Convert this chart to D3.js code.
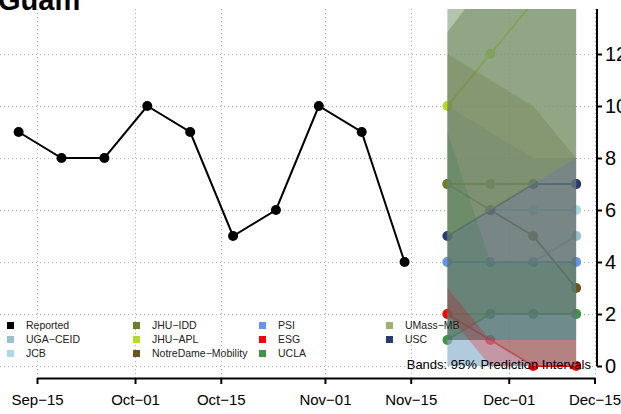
<!DOCTYPE html>
<html>
<head>
<meta charset="utf-8">
<script src="https://cdn.jsdelivr.net/npm/d3@7"></script>
<style>
body { margin: 0; background: #fff; }
svg { display: block; font-family: "Liberation Sans", Arial, sans-serif; }
</style>
</head>
<body>
<div id="chart"></div>
<script>
// observed weekly counts
const reportedDates = ["2020-09-12","2020-09-19","2020-09-26","2020-10-03","2020-10-10","2020-10-17","2020-10-24","2020-10-31","2020-11-07","2020-11-14"];
const reported = [9, 8, 8, 10, 9, 5, 6, 10, 9, 4];

// forecasts (drawing order)
const forecastDates = ["2020-11-21","2020-11-28","2020-12-05","2020-12-12"];
const models = ["UMass-MB","UGA-CEID","JCB","PSI","NotreDame-Mobility","JHU-IDD","JHU-APL","UCLA","ESG","USC"];
const modelColors = ["#9cb469","#9bbfcd","#add8e6","#6495ed","#6b531e","#6e7d2a","#b5dc25","#3f9447","#ff0000","#2c3a72"];
const pointValues = [
  [2, 2, 2, 2],
  [4, 4, 4, 5],
  [5, 6, 6, 6],
  [4, 4, 4, 4],
  [7, 6, 5, 3],
  [7, 7, 7, 7],
  [10, 12, 14, 16],
  [1, 2, 2, 2],
  [2, 1, 0, 0],
  [5, 6, 7, 7]
];
const lower = [
  [0, 0, 0, 0],
  [0, 0, 0, 0],
  [0, 0, 0, 0],
  [0, 0, 0, 0],
  [1, 1, 0, 0],
  [1, 2, 2, 2],
  [5, 6, 7, 8],
  [1, 1, 1, 1],
  [2, 0, 0, 0],
  [1, 1, 1, 1]
];
const upper = [
  [26, 26, 26, 26],
  [24, 24, 24, 24],
  [22, 22, 22, 22],
  [10, 9, 8, 8],
  [12, 11, 10, 8],
  [20, 20, 20, 20],
  [12.85, 15, 17, 19],
  [9, 4, 4, 4],
  [3, 1, 1, 1],
  [12.85, 15, 17, 19]
];

// legend (column by column)
const legendNames = ["Reported","UGA\u2212CEID","JCB","JHU\u2212IDD","JHU\u2212APL","NotreDame\u2212Mobility","PSI","ESG","UCLA","UMass\u2212MB","USC"];
const legendColors = ["#000000","#9bbfcd","#add8e6","#6e7d2a","#b5dc25","#6b531e","#6495ed","#ff0000","#3f9447","#9cb469","#2c3a72"];

const yTicks = [0, 2, 4, 6, 8, 10, 12];
const xTicks = ["2020-09-15","2020-10-01","2020-10-15","2020-11-01","2020-11-15","2020-12-01","2020-12-15"];
const xTickLabels = ["Sep\u221215","Oct\u221201","Oct\u221215","Nov\u221201","Nov\u221215","Dec\u221201","Dec\u221215"];

const width = 621, height = 414;
const parse = d3.timeParse("%Y-%m-%d");
const plotTop = 9, axisY = 378, yAxisX = 597;

const svg = d3.select("#chart").append("svg").attr("width", width).attr("height", height);

const x = d3.scaleTime()
  .domain([parse(xTicks[0]), parse(xTicks[xTicks.length - 1])])
  .range([37, 594.5]);
const y = d3.scaleLinear().domain([0, 12]).range([366, 54]);

svg.append("defs").append("clipPath").attr("id", "clip")
  .append("rect").attr("x", 0).attr("y", plotTop).attr("width", yAxisX).attr("height", axisY - plotTop);

// grid
const grid = svg.append("g").attr("stroke", "#b0b0b0").attr("stroke-dasharray", "1,3").attr("stroke-width", 1);
grid.selectAll(".gy").data(yTicks).join("line")
  .attr("x1", 0).attr("x2", yAxisX)
  .attr("y1", d => y(d) + 0.5).attr("y2", d => y(d) + 0.5);
grid.selectAll(".gx").data(xTicks).join("line")
  .attr("x1", d => Math.round(x(parse(d))) + 0.5).attr("x2", d => Math.round(x(parse(d))) + 0.5)
  .attr("y1", plotTop).attr("y2", axisY);

const plot = svg.append("g").attr("clip-path", "url(#clip)");

const line = d3.line().x(d => x(d[0])).y(d => y(d[1]));
const fDates = forecastDates.map(parse);

// reported series
const rep = reportedDates.map((d, i) => [parse(d), reported[i]]);
plot.append("path").datum(rep).attr("d", line)
  .attr("fill", "none").attr("stroke", "#000").attr("stroke-width", 2);
plot.selectAll(".rp").data(rep).join("circle")
  .attr("cx", d => x(d[0])).attr("cy", d => y(d[1])).attr("r", 5).attr("fill", "#000");

// forecast lines and points
models.forEach((m, k) => {
  const pts = fDates.map((d, i) => [d, pointValues[k][i]]);
  plot.append("path").datum(pts).attr("d", line)
    .attr("fill", "none").attr("stroke", modelColors[k]).attr("stroke-width", 2);
  plot.append("g").selectAll("circle").data(pts).join("circle")
    .attr("cx", d => x(d[0])).attr("cy", d => y(d[1])).attr("r", 5).attr("fill", modelColors[k]);
});

// prediction interval bands on top
const area = d3.area().x(d => x(d[0])).y0(d => y(d[1])).y1(d => y(d[2]));
models.forEach((m, k) => {
  const band = fDates.map((d, i) => [d, lower[k][i], upper[k][i]]);
  plot.append("path").datum(band).attr("d", area)
    .attr("fill", modelColors[k]).attr("fill-opacity", 0.25).attr("stroke", "none");
});

// x axis
const xAxis = svg.append("g").attr("transform", `translate(0,${axisY})`)
  .call(d3.axisBottom(x).tickValues(xTicks.map(parse)).tickSize(6).tickSizeOuter(0)
    .tickFormat((d, i) => xTickLabels[i]));
xAxis.select(".domain").attr("stroke-width", 2);
xAxis.selectAll(".tick line").attr("stroke-width", 2);
xAxis.selectAll(".tick text").attr("font-size", 15).attr("font-family", "Liberation Sans, Arial, sans-serif")
  .attr("fill", "#000").attr("y", 16);

// y axis (right)
const yAxis = svg.append("g").attr("transform", `translate(${yAxisX},0)`)
  .call(d3.axisRight(y).tickValues(yTicks).tickSize(5).tickSizeOuter(0));
yAxis.select(".domain").remove();
yAxis.append("line").attr("y1", plotTop).attr("y2", y(0)).attr("stroke", "#000").attr("stroke-width", 2);
yAxis.selectAll(".tick line").attr("stroke-width", 2);
yAxis.selectAll(".tick text").attr("font-size", 20).attr("font-family", "Liberation Sans, Arial, sans-serif")
  .attr("fill", "#000").attr("x", 8);

// legend
const legend = svg.append("g").attr("font-size", 10.5);
const colX = [7, 133, 259, 386];
legendNames.forEach((name, i) => {
  const col = Math.floor(i / 3), row = i % 3;
  const g = legend.append("g").attr("transform", `translate(${colX[col]},${322 + row * 14})`);
  g.append("rect").attr("width", 7).attr("height", 7).attr("fill", legendColors[i]);
  g.append("text").attr("x", 19).attr("y", 7).text(name).attr("fill", "#222");
});

svg.append("text").attr("x", 591).attr("y", 369).attr("text-anchor", "end")
  .attr("font-size", 13).text("Bands: 95% Prediction Intervals");

svg.append("text").attr("x", -2).attr("y", 10).attr("font-size", 29).attr("font-weight", "bold")
  .text("Guam");
</script>
</body>
</html>
